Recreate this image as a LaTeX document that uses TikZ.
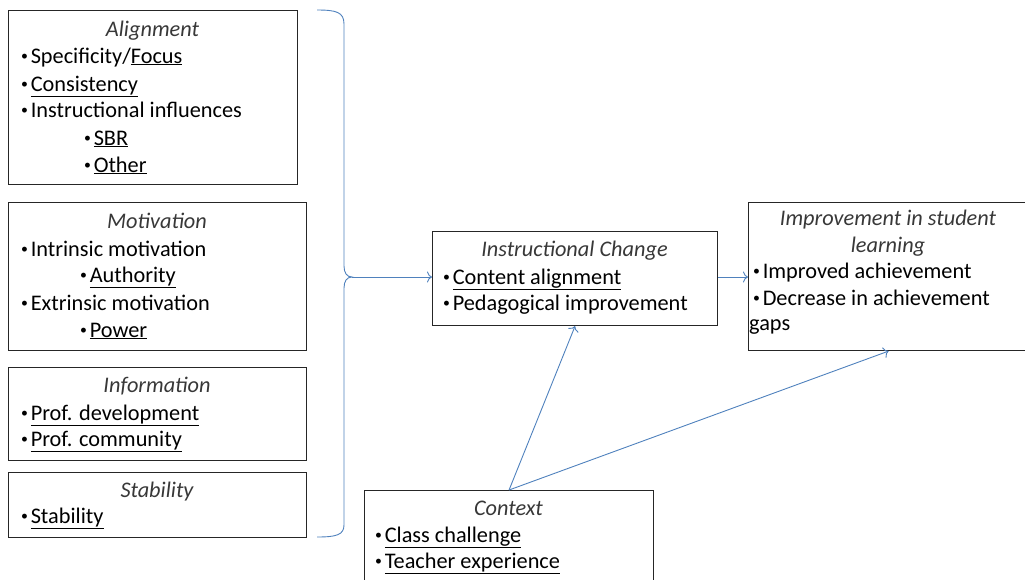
\documentclass[tikz,border=0pt]{standalone}
\usepackage{fontspec}
\setmainfont{Carlito}
\usetikzlibrary{arrows.meta}
\definecolor{arrowblue}{RGB}{79,129,189}
\newcommand\fsz{\fontsize{22.3}{26}\selectfont}
\newcommand\myul[1]{\underline{#1}}
\newcommand\bul{\raisebox{0.12em}{\scalebox{0.62}{•}}\kern0.12em}
\tikzset{
  box/.style={draw=black!85, line width=1.1pt, fill=white, anchor=north west, inner sep=0},
  ttl/.style={anchor=base, inner sep=0, font=\fsz\itshape, text=black!78},
  txt/.style={anchor=base west, inner sep=0, font=\fsz},
  conn/.style={draw=arrowblue, line width=0.9pt, -{To[length=5pt,width=11pt]}},
  brc/.style={draw=arrowblue, line width=0.9pt},
}
\begin{document}
\begin{tikzpicture}[x=1pt,y=-1pt]
\useasboundingbox (0,0) rectangle (1025,579);
\clip (0,0) rectangle (1025,579);

% Alignment
\node[box, minimum width=289, minimum height=174] (al) at (8,10) {};
\node[ttl] (alt) at (152.5,36) {Alignment};
\node[txt] (al1) at (21,63) {\bul Specificity/\myul{Focus}};
\node[txt] (al2) at (21,91) {\bul\myul{Consistency}};
\node[txt] (al3) at (21,117) {\bul Instructional influences};
\node[txt] (al4) at (84,145) {\bul\myul{SBR}};
\node[txt] (al5) at (84,172) {\bul\myul{Other}};

% Motivation
\node[box, minimum width=298, minimum height=148] (mo) at (8,202) {};
\node[ttl] (mot) at (157,228) {Motivation};
\node[txt] (mo1) at (21,256) {\bul Intrinsic motivation};
\node[txt] (mo2) at (80,282) {\bul\myul{Authority}};
\node[txt] (mo3) at (21,310) {\bul Extrinsic motivation};
\node[txt] (mo4) at (80,337) {\bul\myul{Power}};

% Information
\node[box, minimum width=298, minimum height=93] (in) at (8,367) {};
\node[ttl] (int) at (157,392) {Information};
\node[txt] (in1) at (21,420) {\bul\myul{Prof. development}};
\node[txt] (in2) at (21,446) {\bul\myul{Prof. community}};

% Stability
\node[box, minimum width=298, minimum height=65] (st) at (8,472) {};
\node[ttl] (stt) at (157,497) {Stability};
\node[txt] (st1) at (21,523) {\bul\myul{Stability}};

% Instructional Change
\node[box, minimum width=285, minimum height=94] (ic) at (432,231) {};
\node[ttl] (ict) at (574.5,256) {Instructional Change};
\node[txt] (ic1) at (443,284) {\bul\myul{Content alignment}};
\node[txt] (ic2) at (443,310) {\bul Pedagogical improvement};

% Improvement in student learning
\node[box, minimum width=280, minimum height=148] (im) at (748,202) {};
\node[ttl] (imt1) at (888,225) {Improvement in student};
\node[ttl] (imt2) at (888,252) {learning};
\node[txt] (im1) at (753,278) {\bul Improved achievement};
\node[txt] (im2) at (753,305) {\bul Decrease in achievement};
\node[txt] (im3) at (749,330) {gaps};

% Context
\node[box, minimum width=289, minimum height=120] (cx) at (364,490) {};
\node[ttl] (cxt) at (508.5,515) {Context};
\node[txt] (cx1) at (375,542) {\bul\myul{Class challenge}};
\node[txt] (cx2) at (375,568) {\bul\myul{Teacher experience}};

% Brace
\coordinate (bt) at (352,277);
\draw[brc] (317,10) .. controls (336,10) and (344,12) .. (344,24) -- (344,266)
  .. controls (344,273) and (347,277) .. (bt)
  .. controls (347,277) and (344,281) .. (344,288) -- (344,525)
  .. controls (344,535) and (336,537) .. (317,537);

% Connectors
\draw[conn] (bt) -- (bt -| ic.west);
\draw[conn] (ic.east |- 0,277) -- (im.west |- 0,277);
\draw[conn] (cx.north) -- (ic.south);
\draw[conn] (cx.north) -- (im.south);
\end{tikzpicture}
\end{document}
